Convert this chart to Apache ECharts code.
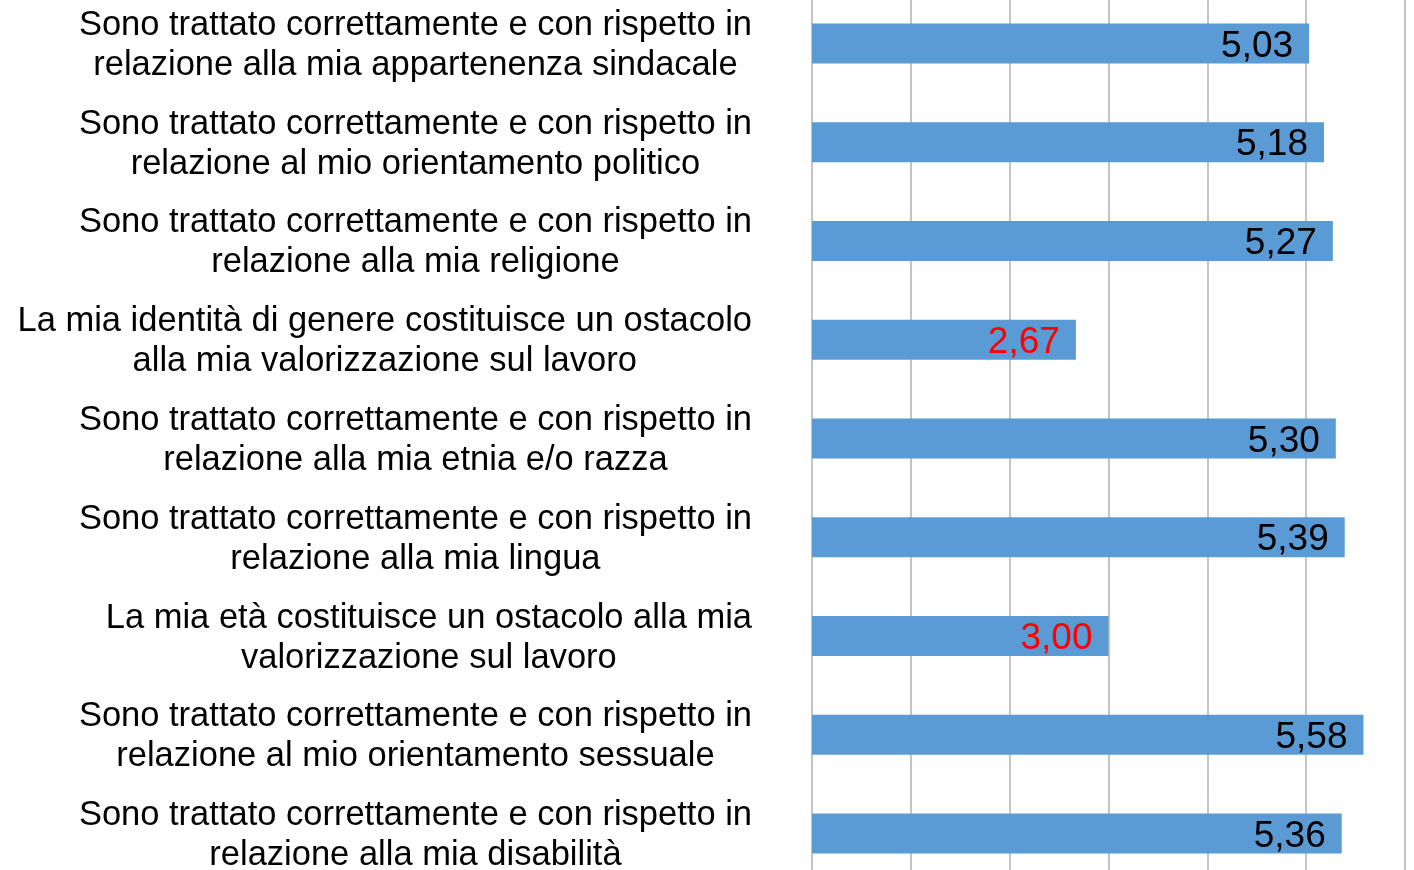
<!DOCTYPE html>
<html><head><meta charset="utf-8">
<script src="https://cdn.jsdelivr.net/npm/echarts@6/dist/echarts.min.js"></script>
<style>html,body{margin:0;padding:0;background:#fff;overflow:hidden;width:1414px;height:870px;position:relative}
#c{position:absolute;left:0;top:-6.4px;width:1414px;height:888.8px}</style>
</head><body><div id="c"></div>
<script>
const categories = [
  "Sono trattato correttamente e con rispetto in\nrelazione alla mia appartenenza sindacale",
  "Sono trattato correttamente e con rispetto in\nrelazione al mio orientamento politico",
  "Sono trattato correttamente e con rispetto in\nrelazione alla mia religione",
  "La mia identità di genere costituisce un ostacolo\nalla mia valorizzazione sul lavoro",
  "Sono trattato correttamente e con rispetto in\nrelazione alla mia etnia e/o razza",
  "Sono trattato correttamente e con rispetto in\nrelazione alla mia lingua",
  "La mia età costituisce un ostacolo alla mia\nvalorizzazione sul lavoro",
  "Sono trattato correttamente e con rispetto in\nrelazione al mio orientamento sessuale",
  "Sono trattato correttamente e con rispetto in\nrelazione alla mia disabilità"
];
const values = [5.03, 5.18, 5.27, 2.67, 5.30, 5.39, 3.00, 5.58, 5.36];
const isNegativeItem = [false, false, false, true, false, false, true, false, false];
const axisTicks = [0, 1, 2, 3, 4, 5, 6];

const FONT = '"Liberation Sans", Arial, sans-serif';
const chart = echarts.init(document.getElementById('c'), null, {renderer: 'canvas'});
chart.setOption({
  animation: false,
  backgroundColor: '#ffffff',
  grid: {left: 812, right: 9, top: 0, bottom: 0, containLabel: false},
  xAxis: {
    type: 'value', min: axisTicks[0], max: axisTicks[axisTicks.length - 1], interval: 1,
    axisLabel: {show: false}, axisLine: {show: false}, axisTick: {show: false},
    splitLine: {show: true, lineStyle: {color: '#C4C4C4', width: 2}}
  },
  yAxis: {
    type: 'category', data: categories, inverse: true,
    axisLine: {show: true, lineStyle: {color: '#C4C4C4', width: 2}},
    axisTick: {show: false},
    axisLabel: {
      margin: 60, align: 'right', padding: [4, 0, 0, 0],
      formatter: function (v) {
        return v.split('\n').map(function (l) { return '{c|' + l + '}'; }).join('\n');
      },
      rich: {c: {align: 'center', fontFamily: FONT, fontSize: 34.5, lineHeight: 40, color: '#000'}}
    }
  },
  series: [{
    type: 'bar', barWidth: 40,
    itemStyle: {color: '#5B9BD5'},
    data: values.map(function (v, i) {
      return {value: v, label: {color: isNegativeItem[i] ? '#FF0000' : '#000000'}};
    }),
    label: {
      show: true, position: 'insideRight', distance: 16, offset: [0, 3],
      fontFamily: FONT, fontSize: 37,
      formatter: function (p) { return p.value.toFixed(2).replace('.', ','); }
    }
  }]
});
</script></body></html>
